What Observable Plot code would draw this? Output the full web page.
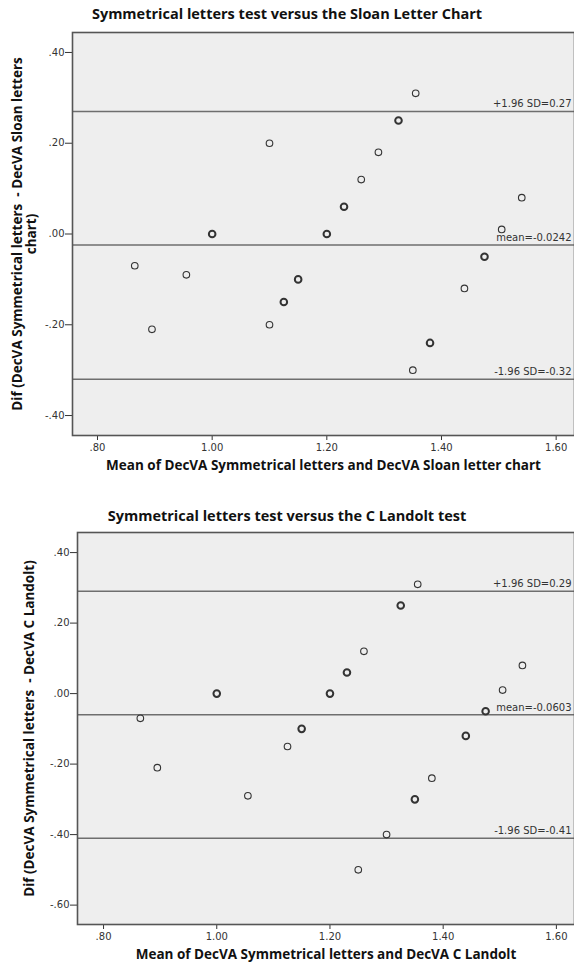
<!DOCTYPE html>
<html><head><meta charset="utf-8">
<script src="https://cdn.jsdelivr.net/npm/d3@7"></script>
<script src="https://cdn.jsdelivr.net/npm/@observablehq/plot@0.6"></script>
<style>
html,body{margin:0;padding:0;background:#fff;}
#wrap{position:relative;width:574px;height:969px;overflow:hidden;font-family:"Open Sans",sans-serif;}
.title{position:absolute;left:0;width:574px;text-align:center;font-weight:bold;font-size:14.5px;line-height:20px;color:#111;}
.chart{position:absolute;left:0;}
</style></head><body>
<div id="wrap">
 <div class="chart" id="c1" style="top:0px"></div>
 <div class="chart" id="c2" style="top:490px"></div>
 <div class="title" id="t1" style="top:4px"></div>
 <div class="title" id="t2" style="top:506px"></div>
</div>
<script>
// ---- Chart 1: Symmetrical letters vs Sloan letter chart ----
const sloanTitle = "Symmetrical letters test versus the Sloan Letter Chart";
const sloanXLabel = "Mean of DecVA Symmetrical letters and DecVA Sloan letter chart";
const sloanYLabel = "Dif (DecVA Symmetrical letters  - DecVA Sloan letters\nchart)";
const sloanMean = [0.865, 0.895, 0.955, 1.00, 1.10, 1.10, 1.125, 1.15, 1.20, 1.23, 1.26, 1.29, 1.325, 1.35, 1.355, 1.38, 1.44, 1.475, 1.505, 1.54];
const sloanDiff = [-0.07, -0.21, -0.09, 0.00, 0.20, -0.20, -0.15, -0.10, 0.00, 0.06, 0.12, 0.18, 0.25, -0.30, 0.31, -0.24, -0.12, -0.05, 0.01, 0.08];
const sloanCount = [1, 1, 1, 2, 1, 1, 2, 2, 2, 2, 1, 1, 2, 1, 1, 2, 1, 2, 1, 1];
const sloanLines = [0.27, -0.0242, -0.32];
const sloanLineLabels = ["+1.96 SD=0.27", "mean=-0.0242", "-1.96 SD=-0.32"];
const sloanYTicks = [-0.4, -0.2, 0, 0.2, 0.4];

// ---- Chart 2: Symmetrical letters vs C Landolt ----
const landoltTitle = "Symmetrical letters test versus the C Landolt test";
const landoltXLabel = "Mean of DecVA Symmetrical letters and DecVA C Landolt";
const landoltYLabel = "Dif (DecVA Symmetrical letters  - DecVA C Landolt)";
const landoltMean = [0.865, 0.895, 1.00, 1.055, 1.125, 1.15, 1.20, 1.23, 1.25, 1.26, 1.30, 1.325, 1.35, 1.355, 1.38, 1.44, 1.475, 1.505, 1.54];
const landoltDiff = [-0.07, -0.21, 0.00, -0.29, -0.15, -0.10, 0.00, 0.06, -0.50, 0.12, -0.40, 0.25, -0.30, 0.31, -0.24, -0.12, -0.05, 0.01, 0.08];
const landoltCount = [1, 1, 2, 1, 1, 2, 2, 2, 1, 1, 1, 2, 2, 1, 1, 2, 2, 1, 1];
const landoltLines = [0.29, -0.0603, -0.41];
const landoltLineLabels = ["+1.96 SD=0.29", "mean=-0.0603", "-1.96 SD=-0.41"];
const landoltYTicks = [-0.6, -0.4, -0.2, 0, 0.2, 0.4];

const xTicks = [0.8, 1.0, 1.2, 1.4, 1.6];

const fmt = d => (d < 0 ? "-" : "") + Math.abs(d).toFixed(2).replace(/^0\./, ".");

function bland({xs, ys, ns, lines, lineLabels, yTicks, xDomain, yDomain, xLabel, yLabel, height, marginLeft, marginTop, marginBottom, yLabelDx}) {
  const pts = xs.map((x, i) => ({x, y: ys[i], n: ns[i]}));
  const refs = lines.map((v, i) => ({v, label: lineLabels[i]}));
  return Plot.plot({
    width: 574, height, marginLeft, marginRight: 0, marginTop, marginBottom,
    style: {fontFamily: "DejaVu Sans, sans-serif", fontSize: "10px", color: "#333", background: "transparent", overflow: "visible"},
    x: {domain: xDomain, ticks: xTicks, tickFormat: fmt, tickSize: 5, tickPadding: 3, label: null},
    y: {domain: yDomain, ticks: yTicks, tickFormat: fmt, tickSize: 7, tickPadding: 1, label: null},
    marks: [
      Plot.frame({fill: "#eeeeee", stroke: "none"}),
      Plot.ruleY(refs, {y: "v", stroke: "#6e6e6e", strokeWidth: 1.5}),
      Plot.text(refs, {y: "v", text: "label", frameAnchor: "right", textAnchor: "end", dx: -3, dy: -7.5, fontSize: 10, fill: "#333"}),
      Plot.dot(pts, {x: "x", y: "y", r: 3.3, stroke: "#333", fill: "none", strokeWidth: d => d.n > 1 ? 2 : 1.1}),
      Plot.frame({stroke: "#555", strokeWidth: 1.6}),
      Plot.text([xLabel], {text: d => d, frameAnchor: "bottom", dy: 34, fontSize: 13.5, fontWeight: "bold", fill: "#111", fontFamily: "Open Sans, sans-serif"}),
      Plot.text([yLabel], {text: d => d, frameAnchor: "left", textAnchor: "middle", rotate: -90, dx: yLabelDx, fontSize: 13.5, fontWeight: "bold", fill: "#111", lineHeight: 1.0, fontFamily: "Open Sans, sans-serif"})
    ]
  });
}

document.getElementById("t1").textContent = sloanTitle;
document.getElementById("t2").textContent = landoltTitle;

document.getElementById("c1").append(bland({
  xs: sloanMean, ys: sloanDiff, ns: sloanCount, lines: sloanLines, lineLabels: sloanLineLabels,
  yTicks: sloanYTicks, xDomain: [0.7564, 1.632], yDomain: [-0.444, 0.444],
  xLabel: sloanXLabel, yLabel: sloanYLabel, height: 490, marginLeft: 72, marginTop: 32, marginBottom: 55, yLabelDx: -48
}));
document.getElementById("c2").append(bland({
  xs: landoltMean, ys: landoltDiff, ns: landoltCount, lines: landoltLines, lineLabels: landoltLineLabels,
  yTicks: landoltYTicks, xDomain: [0.754, 1.632], yDomain: [-0.655, 0.457],
  xLabel: landoltXLabel, yLabel: landoltYLabel, height: 479, marginLeft: 77, marginTop: 42, marginBottom: 45, yLabelDx: -48
}));
</script>
</body></html>
